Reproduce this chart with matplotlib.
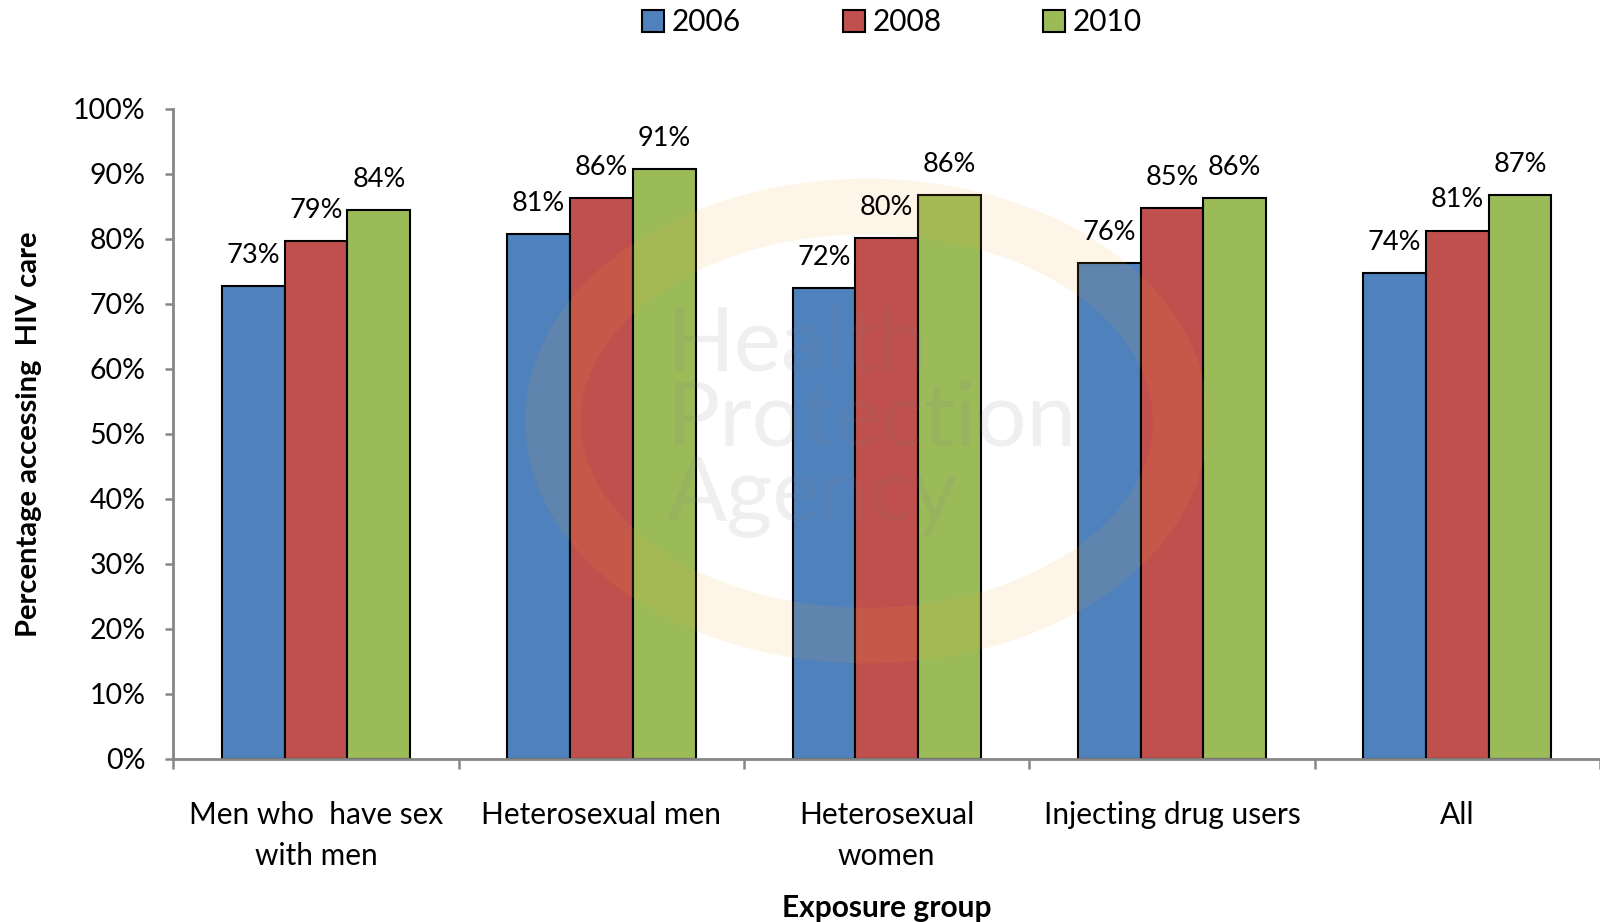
import matplotlib
matplotlib.use("Agg")
import matplotlib.pyplot as plt
import numpy as np
from matplotlib.patches import Ellipse

categories = ["Men who  have sex\nwith men", "Heterosexual men", "Heterosexual\nwomen",
              "Injecting drug users", "All"]
years = ["2006", "2008", "2010"]
v2006 = [72.7, 80.8, 72.4, 76.3, 74.7]
v2008 = [79.7, 86.3, 80.2, 84.8, 81.3]
v2010 = [84.5, 90.7, 86.8, 86.3, 86.8]
lab2006 = ["73%", "81%", "72%", "76%", "74%"]
lab2008 = ["79%", "86%", "80%", "85%", "81%"]
lab2010 = ["84%", "91%", "86%", "86%", "87%"]
yticks = [0, 10, 20, 30, 40, 50, 60, 70, 80, 90, 100]

colors = ["#4F81BD", "#C0504D", "#9BBB59"]
series = [v2006, v2008, v2010]
labels = [lab2006, lab2008, lab2010]

plt.rcParams['font.family'] = ['Lato', 'DejaVu Sans']

fig = plt.figure(figsize=(16, 9.22), dpi=100)
ax = fig.add_axes([0.1084, 0.1768, 0.8916, 0.705])

x = np.arange(len(categories))
w = 0.22
for i, (vals, lbls, c, yr) in enumerate(zip(series, labels, colors, years)):
    xs = x + (i - 1) * w
    bars = ax.bar(xs, vals, width=w, color=c, edgecolor="black", linewidth=1.5,
                  label=yr, zorder=2)
    for b, l in zip(bars, lbls):
        ax.annotate(l, (b.get_x() + b.get_width() / 2, b.get_height()),
                    xytext=(0, 13), textcoords="offset points", ha="center",
                    va="bottom", fontsize=19.5, color="black", zorder=5)

# faint watermark
ell = Ellipse((1.93, 52), 2.2, 66, transform=ax.transData,
              facecolor="none", edgecolor="#F5A623", linewidth=40, alpha=0.10, zorder=3)
ax.add_patch(ell)
ax.text(1.23, 52, "Health\nProtection\nAgency", fontsize=64, color="grey", alpha=0.12,
        ha="left", va="center", linespacing=0.9, zorder=4)

ax.set_xlim(-0.5, len(categories) - 0.5)
ax.set_ylim(0, 100)
ax.set_yticks(yticks)
ax.set_yticklabels([f"{t}%" for t in yticks], fontsize=20.5)
ax.set_xticks(x)
ax.set_xticklabels(categories, fontsize=21.5, linespacing=1.6)
ax.set_xticks(np.arange(-0.5, len(categories) + 0.5, 1), minor=True)
ax.tick_params(axis="x", which="major", length=0, pad=30)
ax.tick_params(axis="x", which="minor", length=7, width=1.8, color="#868686")
ax.tick_params(axis="y", length=6, width=1.8, color="#868686", pad=14)

for s in ["top", "right"]:
    ax.spines[s].set_visible(False)
for s in ["left", "bottom"]:
    ax.spines[s].set_color("#868686")
    ax.spines[s].set_linewidth(2)

ax.set_ylabel("Percentage accessing  HIV care", fontsize=21, fontweight="bold", labelpad=22)
ax.set_xlabel("Exposure group", fontsize=21.5, fontweight="bold", labelpad=17)

fig.legend(loc="center", bbox_to_anchor=(0.5575, 0.976), ncol=3, frameon=False,
           fontsize=21.5, handlelength=0.75, handleheight=0.75, handletextpad=0.25,
           columnspacing=3.4)

fig.savefig("out.png", dpi=100)
